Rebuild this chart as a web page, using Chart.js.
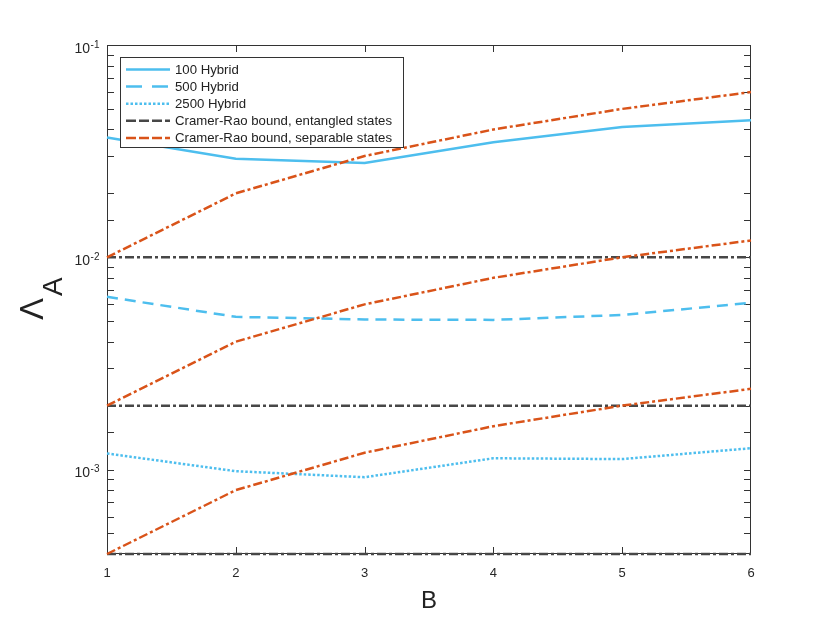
<!DOCTYPE html>
<html><head><meta charset="utf-8">
<script src="https://cdn.jsdelivr.net/npm/chart.js@4.4.1/dist/chart.umd.min.js"></script>
<style>html,body{margin:0;padding:0;background:#fff}#wrap{width:830px;height:623px;position:relative}</style>
</head><body><div id="wrap"><canvas id="c"></canvas></div>
<script>
const B = [1, 2, 3, 4, 5, 6];
const hybrid100  = [0.0367, 0.0291, 0.0278, 0.0348, 0.0411, 0.0442];
const hybrid500  = [0.00651, 0.00524, 0.00509, 0.00507, 0.00535, 0.0061];
const hybrid2500 = [0.00119, 0.000982, 0.00092, 0.00113, 0.00112, 0.00126];
const crEnt100  = [0.01, 0.01, 0.01, 0.01, 0.01, 0.01];
const crEnt500  = [0.002, 0.002, 0.002, 0.002, 0.002, 0.002];
const crEnt2500 = [0.0004, 0.0004, 0.0004, 0.0004, 0.0004, 0.0004];
const crSep100  = [0.01, 0.02, 0.03, 0.04, 0.05, 0.06];
const crSep500  = [0.002, 0.004, 0.006, 0.008, 0.010, 0.012];
const crSep2500 = [0.0004, 0.0008, 0.0012, 0.0016, 0.0020, 0.0024];
const legendLabels = ['100 Hybrid', '500 Hybrid', '2500 Hybrid', 'Cramer-Rao bound, entangled states', 'Cramer-Rao bound, separable states'];
const yDecadeExp = {'-1': '-1', '-2': '-2', '-3': '-3'};
const xTitle = 'B';
const yTitleMain = 'Λ', yTitleSub = 'A';

const BLUE = '#4DBEEE', ORANGE = '#D95319', GRAY = '#474747';
const DASHDOT = [9, 3, 3, 3];
const FONT = '"Liberation Sans", Arial, sans-serif';
function pts(arr) { return B.map((b, i) => ({x: b, y: arr[i]})); }
function ds(label, arr, color, dash, order, legendDash) {
  return {label, data: pts(arr), borderColor: color, backgroundColor: color, borderWidth: 2.5,
    borderDash: dash, borderCapStyle: 'butt', pointRadius: 0, tension: 0, fill: false,
    clip: {left: 5, right: 5, top: 5, bottom: 5}, order, legendDash};
}
const datasets = [
  ds(legendLabels[0], hybrid100, BLUE, [], 3, []),
  ds(legendLabels[1], hybrid500, BLUE, [11, 7], 3, [16, 10]),
  ds(legendLabels[2], hybrid2500, BLUE, [2.5, 2], 3, [2.5, 2]),
  ds(legendLabels[3], crEnt100, GRAY, DASHDOT, 2, [10, 3]),
  ds(legendLabels[3], crEnt500, GRAY, DASHDOT, 2, [10, 3]),
  ds(legendLabels[3], crEnt2500, GRAY, DASHDOT, 2, [10, 3]),
  ds(legendLabels[4], crSep100, ORANGE, DASHDOT, 1, [10, 3]),
  ds(legendLabels[4], crSep500, ORANGE, DASHDOT, 1, [10, 3]),
  ds(legendLabels[4], crSep2500, ORANGE, DASHDOT, 1, [10, 3])
];
const legendIdx = [0, 1, 2, 3, 6];

const frame = {
  id: 'frame',
  beforeDatasetsDraw(chart) {
    const {ctx, chartArea: a, scales: {x, y}} = chart;
    ctx.save();
    ctx.strokeStyle = '#333';
    ctx.lineWidth = 1;
    const L = Math.round(a.left) + 0.5, R = Math.round(a.right) - 0.5, T = Math.round(a.top) + 0.5, Bt = Math.round(a.bottom) - 0.5;
    ctx.strokeRect(L, T, R - L, Bt - T);
    const len = 6.5;
    ctx.beginPath();
    y.ticks.forEach(t => {
      const p = Math.round(y.getPixelForValue(t.value)) + 0.5;
      if (p <= T + 1 || p >= Bt - 1) return;
      ctx.moveTo(L, p); ctx.lineTo(L + len, p);
      ctx.moveTo(R, p); ctx.lineTo(R - len, p);
    });
    x.ticks.forEach(t => {
      const p = Math.round(x.getPixelForValue(t.value)) + 0.5;
      if (p <= L + 1 || p >= R - 1) return;
      ctx.moveTo(p, Bt); ctx.lineTo(p, Bt - len);
      ctx.moveTo(p, T); ctx.lineTo(p, T + len);
    });
    ctx.stroke();
    // y decade labels with superscripts
    ctx.fillStyle = '#262626';
    ctx.textBaseline = 'alphabetic'; ctx.textAlign = 'left';
    y.ticks.forEach(t => {
      const e = Math.log10(t.value), r = Math.round(e);
      if (Math.abs(e - r) > 1e-6) return;
      const sup = yDecadeExp[String(r)];
      if (!sup) return;
      const p = y.getPixelForValue(t.value);
      ctx.font = '14px ' + FONT;
      const w1 = ctx.measureText('10').width;
      ctx.font = '10px ' + FONT;
      const w2 = ctx.measureText(sup).width;
      const x0 = a.left - 8 - w1 - w2;
      ctx.font = '14px ' + FONT;
      ctx.fillText('10', x0, p + 7.5);
      ctx.font = '10px ' + FONT;
      ctx.fillText(sup, x0 + w1 + 0.5, p + 2.5);
    });
    ctx.restore();
  },
  afterDraw(chart) {
    const {ctx, chartArea: a} = chart;
    ctx.save();
    // legend
    const lx = 120, ly = 57, lw = 283, lh = 90;
    ctx.fillStyle = '#fff';
    ctx.fillRect(lx, ly, lw, lh);
    ctx.strokeStyle = '#333'; ctx.lineWidth = 1;
    ctx.strokeRect(lx + 0.5, ly + 0.5, lw, lh);
    legendIdx.forEach((di, i) => {
      const d = chart.data.datasets[di];
      const cy = 69.5 + i * 17.1;
      ctx.beginPath();
      ctx.setLineDash(d.legendDash);
      ctx.strokeStyle = d.borderColor; ctx.lineWidth = 2.5; ctx.lineCap = 'butt';
      ctx.moveTo(126, cy); ctx.lineTo(170, cy);
      ctx.stroke();
      ctx.setLineDash([]);
      ctx.fillStyle = '#222';
      ctx.font = '13.2px ' + FONT;
      ctx.textBaseline = 'middle'; ctx.textAlign = 'left';
      ctx.fillText(legendLabels[i], 175, cy + 0.5);
    });
    // x title
    ctx.fillStyle = '#222';
    ctx.font = '24px ' + FONT;
    ctx.textAlign = 'center'; ctx.textBaseline = 'alphabetic';
    ctx.fillText(xTitle, (a.left + a.right) / 2, 607.5);
    // y title
    ctx.translate(43.3, 320);
    ctx.rotate(-Math.PI / 2);
    ctx.textAlign = 'left';
    ctx.font = '33px ' + FONT;
    ctx.fillText(yTitleMain, 0, 0);
    ctx.font = '28px ' + FONT;
    ctx.fillText(yTitleSub, 24, 18.4);
    ctx.restore();
  }
};

new Chart(document.getElementById('c'), {
  type: 'line',
  data: {datasets},
  options: {
    responsive: true, maintainAspectRatio: false, animation: false,
    layout: {padding: {top: 45, right: 79, left: 0, bottom: 0}},
    plugins: {legend: {display: false}, tooltip: {enabled: false}},
    scales: {
      x: {
        type: 'linear', min: 1, max: 6,
        grid: {display: false}, border: {display: false},
        ticks: {stepSize: 1, color: '#262626', padding: 4, font: {size: 13, family: FONT}},
        afterFit(s) { s.height = 69; }
      },
      y: {
        type: 'logarithmic', min: 0.0004, max: 0.1,
        grid: {display: false}, border: {display: false},
        ticks: {autoSkip: false, padding: 7, font: {size: 13, family: FONT}, callback() { return ''; }},
        afterFit(s) { s.width = 107; }
      }
    }
  },
  plugins: [frame]
});
</script></body></html>
